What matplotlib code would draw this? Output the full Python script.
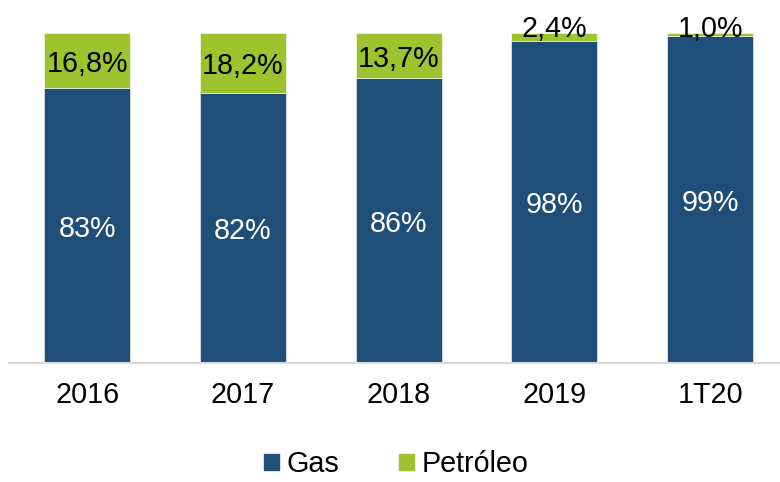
import matplotlib
matplotlib.use("Agg")
import matplotlib.pyplot as plt
from matplotlib.patches import Patch
import numpy as np

categories = ["2016", "2017", "2018", "2019", "1T20"]
gas = [83.2, 81.8, 86.3, 97.6, 99.0]
petroleo = [16.8, 18.2, 13.7, 2.4, 1.0]
gas_labels = ["83%", "82%", "86%", "98%", "99%"]
pet_labels = ["16,8%", "18,2%", "13,7%", "2,4%", "1,0%"]

c_gas = "#1F4E79"
c_pet = "#9DC42E"

plt.rcParams["font.family"] = ["Liberation Sans", "DejaVu Sans"]
fs = 20.7

W, H = 780, 482
fig = plt.figure(figsize=(W / 100, H / 100), dpi=100)
ax = fig.add_axes([9 / W, (H - 362.7) / H, (W - 9) / W, 330 / H])

x = np.arange(len(categories))
ax.bar(x, gas, width=0.552, color=c_gas, edgecolor="white", linewidth=0.4)
ax.bar(x, petroleo, bottom=gas, width=0.552, color=c_pet, edgecolor="white", linewidth=0.4)

# labels: baseline a bit below the middle of each segment
off = -8.4
for i in range(len(x)):
    ax.annotate(gas_labels[i], (x[i], gas[i] / 2), xytext=(0, off),
                textcoords="offset points", ha="center", va="baseline",
                color="white", fontsize=fs)
    if petroleo[i] > 5:
        ax.annotate(pet_labels[i], (x[i], gas[i] + petroleo[i] / 2), xytext=(0, off),
                    textcoords="offset points", ha="center", va="baseline",
                    color="black", fontsize=fs)
    else:
        ax.text(x[i], 98.7, pet_labels[i], ha="center", va="baseline",
                color="black", fontsize=fs)

ax.set_xlim(-0.503, 4.449)
ax.set_ylim(0, 100)
ax.set_yticks([])
ax.set_xticks(x)
ax.set_xticklabels(categories, fontsize=fs)
ax.tick_params(axis="x", length=0, pad=13.4)
for s in ["top", "right", "left"]:
    ax.spines[s].set_visible(False)
ax.spines["bottom"].set_color("#D9D9D9")
ax.spines["bottom"].set_linewidth(1.5)

handles = [Patch(color=c_gas, label="Gas"), Patch(color=c_pet, label="Petróleo")]
fig.legend(handles=handles, loc="center", bbox_to_anchor=(396.5 / W, (H - 464) / H),
           ncol=2, frameon=False, fontsize=fs, handlelength=0.5, handleheight=0.5,
           handletextpad=0.28, columnspacing=2.08, borderpad=0, borderaxespad=0)

fig.savefig("out.png", dpi=100)
